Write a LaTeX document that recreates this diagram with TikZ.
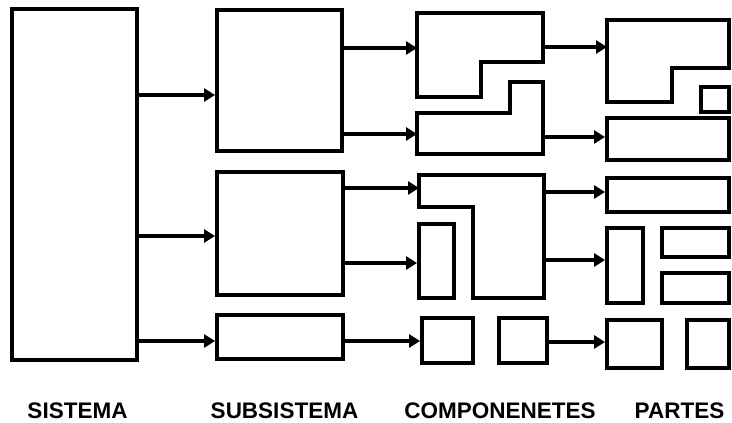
\documentclass[tikz,border=0pt]{standalone}
\usepackage{fontspec}
\setmainfont{Liberation Sans}
\usetikzlibrary{arrows.meta,fit}
\tikzset{
  box/.style={draw=black, line width=3.9pt, inner sep=0pt, rectangle},
  shapeline/.style={draw=black, line width=3.9pt, line join=miter},
  arr/.style={draw=black, line width=3.9pt, -{Triangle[length=11pt,width=13pt]}},
  lab/.style={font=\bfseries\fontsize{22.5}{26}\selectfont, anchor=base, inner sep=0pt}
}
\begin{document}
\begin{tikzpicture}[x=1pt,y=-1pt]
\useasboundingbox (0,0) rectangle (732,423);
% sistema
\node[box, fit={(12,9)(137,360)}] (sys) {};
% subsistemas
\node[box, fit={(217,10)(342,151)}] (sub1) {};
\node[box, fit={(217,172)(343,295)}] (sub2) {};
\node[box, fit={(217,315)(343,359)}] (sub3) {};
% componentes
\draw[shapeline] (417,13) -- (543,13) -- (543,62) -- (481,62) -- (481,97) -- (417,97) -- cycle;
\coordinate (c1in) at (417,48);
\coordinate (c1out) at (543,47);
\draw[shapeline] (417,113) -- (510,113) -- (510,82) -- (543,82) -- (543,154) -- (417,154) -- cycle;
\coordinate (c2in) at (417,134);
\coordinate (c2out) at (543,137);
\draw[shapeline] (419,175) -- (544,175) -- (544,298) -- (473,298) -- (473,207) -- (419,207) -- cycle;
\coordinate (c3in) at (419,188);
\coordinate (c3outa) at (544,192);
\coordinate (c3outb) at (544,260);
\node[box, fit={(419,224)(454,298)}] (comp4) {};
\node[box, fit={(422,318)(473,363)}] (comp5) {};
\node[box, fit={(499,318)(547,363)}] (comp6) {};
% partes
\draw[shapeline] (607,20) -- (729,20) -- (729,68) -- (672,68) -- (672,102) -- (607,102) -- cycle;
\coordinate (p1in) at (607,47);
\node[box, fit={(701,87)(729,112)}] (p1b) {};
\node[box, fit={(607,118)(729,160)}] (p2) {};
\node[box, fit={(607,178)(729,212)}] (p3) {};
\node[box, fit={(607,228)(643,303)}] (p4) {};
\node[box, fit={(662,228)(729,257)}] (p5) {};
\node[box, fit={(662,273)(729,303)}] (p6) {};
\node[box, fit={(607,320)(662,368)}] (p7) {};
\node[box, fit={(687,320)(729,368)}] (p8) {};
% conectores
\draw[arr] (sys.east |- 0,95) -- (sub1.west |- 0,95);
\draw[arr] (sys.east |- 0,236) -- (sub2.west |- 0,236);
\draw[arr] (sys.east |- 0,341) -- (sub3.west |- 0,341);
\draw[arr] (sub1.east |- c1in) -- (c1in);
\draw[arr] (sub1.east |- c2in) -- (c2in);
\draw[arr] (sub2.east |- c3in) -- (c3in);
\draw[arr] (sub2.east |- 0,263) -- (comp4.west |- 0,263);
\draw[arr] (sub3.east |- 0,341) -- (comp5.west |- 0,341);
\draw[arr] (c1out) -- (p1in);
\draw[arr] (c2out) -- (p2.west |- c2out);
\draw[arr] (c3outa) -- (p3.west |- c3outa);
\draw[arr] (c3outb) -- (p4.west |- c3outb);
\draw[arr] (comp6.east |- 0,342) -- (p7.west |- 0,342);
% etiquetas
\node[lab] (l1) at (77.5,418) {SISTEMA};
\node[lab] (l2) at (284.5,418) {SUBSISTEMA};
\node[lab] (l3) at (500,418) {COMPONENETES};
\node[lab] (l4) at (679.5,418) {PARTES};
\end{tikzpicture}
\end{document}
